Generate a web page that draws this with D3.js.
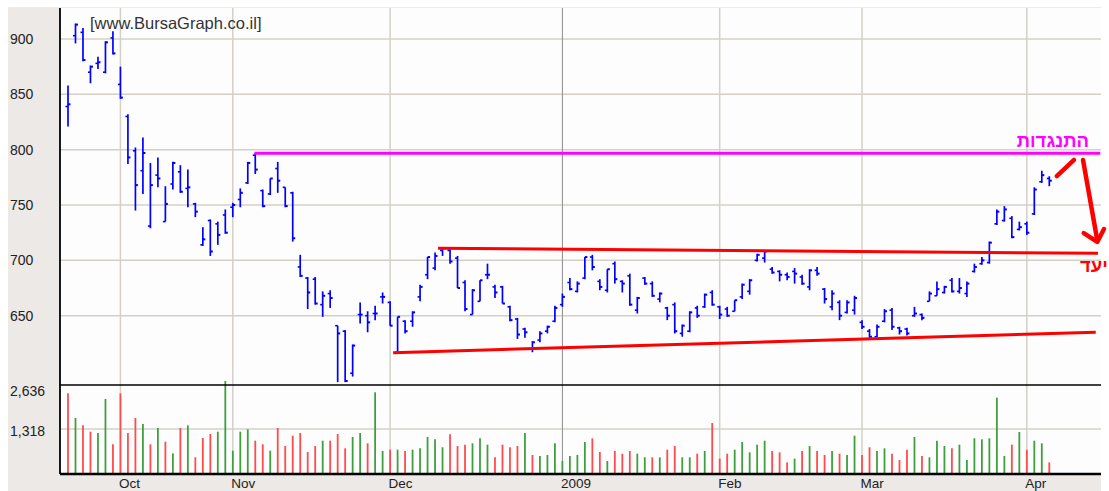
<!DOCTYPE html>
<html>
<head>
<meta charset="utf-8">
<script src="https://cdnjs.cloudflare.com/ajax/libs/d3/7.8.5/d3.min.js"></script>
<style>
  body { margin: 0; background: #fff; }
  svg { display: block; font-family: "Liberation Sans", Arial, sans-serif; }
</style>
</head>
<body>
<svg id="chart" width="1109" height="491"></svg>
<script>
// Daily bars, one entry per trading day (index 0 = first bar on the left)
const opens = [839, 903, 906, 870, 878, 870, 901, 859, 830, 799, 781, 731, 777, 735, 769, 780, 765, 751, 714, 736,
  733, 741, 748, 755, 770, 795, 763, 760, 783, 766, 761, 694, 684, 683, 660, 670, 641, 636, 598, 651,
  650, 652, 667, 662, 617, 645, 645, 667, 687, 693, 709, 709, 702, 680, 651, 663, 687, 676, 676, 658,
  647, 638, 620, 628, 636, 645, 660, 680, 672, 684, 703, 681, 673, 697, 681, 686, 655, 684, 679, 665,
  657, 660, 634, 636, 657, 658, 671, 658, 656, 654, 667, 672, 700, 702, 692, 690, 687, 690, 685, 676,
  691, 674, 658, 662, 653, 655, 644, 636, 631, 645, 655, 639, 638, 650, 651, 663, 668, 671, 682, 672,
  670, 690, 697, 698, 733, 736, 738, 728, 733, 742, 771, 774];
const highs = [858, 914, 910, 876, 884, 898, 907, 875, 832, 802, 811, 788, 793, 767, 789, 786, 782, 752, 730, 737,
  735, 746, 752, 765, 789, 797, 764, 774, 789, 766, 762, 705, 685, 685, 672, 673, 641, 637, 624, 662,
  654, 659, 671, 663, 649, 646, 654, 678, 703, 707, 712, 710, 704, 682, 674, 682, 697, 678, 677, 659,
  648, 639, 627, 636, 641, 659, 670, 684, 681, 703, 705, 683, 692, 699, 682, 688, 667, 685, 681, 671,
  658, 662, 642, 654, 659, 670, 673, 659, 658, 664, 679, 683, 706, 709, 694, 691, 689, 693, 687, 692,
  694, 675, 673, 664, 664, 668, 646, 638, 642, 656, 657, 640, 639, 658, 652, 672, 681, 677, 684, 684,
  681, 697, 703, 717, 746, 749, 740, 735, 735, 766, 781, 776];
const lows = [821, 896, 880, 860, 873, 869, 886, 846, 787, 745, 760, 729, 766, 735, 764, 761, 748, 739, 713, 704,
  714, 724, 739, 748, 769, 778, 748, 759, 761, 748, 717, 685, 656, 660, 649, 657, 590, 590, 595, 643,
  635, 646, 661, 641, 617, 634, 640, 663, 683, 691, 704, 697, 675, 654, 651, 663, 683, 666, 661, 645,
  629, 630, 617, 626, 634, 644, 658, 673, 671, 683, 691, 673, 671, 679, 671, 659, 652, 678, 667, 662,
  646, 634, 631, 635, 648, 657, 659, 647, 649, 654, 665, 669, 699, 698, 688, 681, 682, 679, 678, 673,
  686, 661, 655, 646, 652, 651, 638, 630, 630, 644, 637, 633, 632, 649, 646, 663, 668, 670, 671, 670,
  667, 689, 696, 697, 732, 735, 720, 727, 723, 741, 770, 767];
const closes = [841, 913, 881, 875, 879, 897, 887, 847, 793, 768, 797, 768, 774, 751, 788, 762, 766, 744, 719, 708,
  723, 725, 750, 761, 788, 782, 749, 774, 772, 749, 720, 686, 671, 661, 668, 666, 634, 591, 623, 651,
  644, 652, 667, 641, 649, 636, 653, 676, 703, 704, 711, 699, 675, 656, 673, 682, 687, 671, 661, 646,
  633, 635, 626, 634, 640, 657, 667, 674, 679, 703, 694, 676, 692, 683, 679, 660, 666, 679, 668, 670,
  650, 636, 641, 653, 650, 669, 660, 651, 650, 664, 678, 682, 705, 708, 689, 687, 685, 688, 679, 691,
  688, 665, 670, 650, 662, 666, 640, 631, 640, 654, 640, 636, 634, 652, 648, 670, 674, 676, 672, 675,
  679, 694, 700, 716, 744, 746, 721, 730, 725, 764, 777, 772];
const prevClose = 848; // close of the day before the first bar

const volumes = [2387, 1647, 1428, 1238, 1198, 2216, 859, 2387, 1198, 1647, 1468, 859, 1348, 938, 590, 1348, 1428, 470, 1048, 1168,
  1238, 2755, 668, 1238, 1308, 968, 859, 668, 1348, 809, 1118, 1198, 629, 809, 968, 968, 1168, 739, 1078, 1198,
  889, 2417, 659, 698, 698, 659, 698, 739, 1078, 1009, 770, 1159, 809, 848, 889, 1039, 848, 470, 848, 770,
  809, 1198, 539, 509, 539, 889, 359, 509, 539, 928, 1039, 629, 359, 659, 579, 659, 579, 470, 470, 470,
  698, 809, 470, 470, 579, 659, 1498, 429, 579, 698, 928, 619, 848, 968, 659, 619, 319, 429, 659, 809,
  659, 539, 659, 579, 539, 1118, 539, 770, 659, 739, 579, 389, 698, 1078, 509, 470, 968, 809, 739, 848,
  389, 1039, 1009, 1039, 2256, 509, 848, 1228, 698, 968, 889, 319];

// month boundaries (bar index of the first trading day) and their labels
const monthLabels = ["Oct", "Nov", "Dec", "2009", "Feb", "Mar", "Apr"];
const monthStarts = [7, 22, 43, 66, 87, 106, 128];

const priceTicks = [650, 700, 750, 800, 850, 900];
const volumeTicks = [1318, 2636];

// hand-drawn annotations, in [bar index, price]
const resistanceLine = [[24.9, 796.7], [137.8, 796.7]];
const channelTop = [[49.4, 710.9], [137.5, 706.4]];
const channelBottom = [[43.4, 616.6], [137.2, 635.0]];
const arrowUp = [[132.0, 776.2], [134.3, 790.7]];
const arrowDown = [[135.5, 790.7], [137.4, 718.4]];
const arrowHead = [[135.6, 724.7], [137.4, 716.6], [138.3, 728.3]];
const resistanceLabel = { text: "התנגדות", at: [136.3, 802.7] };
const targetLabel = { text: "יעד", at: [135.1, 689.8] };
const watermark = "[www.BursaGraph.co.il]";

const svg = d3.select("#chart");
const plotLeft = 60, plotRight = 1101, plotTop = 8, priceBottom = 385, volBottom = 474;

const x = d3.scaleLinear().domain([0, 131]).range([68, 1049.3]);
const y = d3.scaleLinear().domain([650, 900]).range([315.7, 39]);
const yVol = d3.scaleLinear().domain([0, 2636]).range([473, 385]);

// frame: grey label panel and white plot area
svg.append("rect").attr("x", 8).attr("y", 7).attr("width", plotRight - 8).attr("height", 491 - 7).attr("fill", "#ece9e6");
svg.append("rect").attr("x", plotLeft).attr("y", plotTop).attr("width", plotRight - plotLeft).attr("height", volBottom - plotTop).attr("fill", "#fdfdfd");

const grid = svg.append("g");
grid.selectAll(".hgrid").data(priceTicks).enter().append("line")
  .attr("x1", plotLeft).attr("x2", plotRight)
  .attr("y1", d => y(d)).attr("y2", d => y(d))
  .attr("stroke", "#d4d0c8").attr("stroke-width", 1.5);
grid.selectAll(".vgridv").data(volumeTicks.slice(0, 1)).enter().append("line")
  .attr("x1", plotLeft).attr("x2", plotRight)
  .attr("y1", d => yVol(d)).attr("y2", d => yVol(d))
  .attr("stroke", "#d4d0c8").attr("stroke-width", 1.5);
grid.selectAll(".vgrid").data(monthStarts).enter().append("line")
  .attr("x1", d => x(d)).attr("x2", d => x(d))
  .attr("y1", plotTop).attr("y2", volBottom)
  .attr("stroke", (d, i) => monthLabels[i] === "2009" ? "#8a8a8a" : "#d4d0c8")
  .attr("stroke-width", (d, i) => monthLabels[i] === "2009" ? 1 : 1.5);

// volume bars, coloured by close vs previous close
const up = closes.map((c, i) => c > (i === 0 ? prevClose : closes[i - 1]));
svg.append("g").selectAll("line").data(volumes).enter().append("line")
  .attr("x1", (d, i) => x(i)).attr("x2", (d, i) => x(i))
  .attr("y1", yVol(0)).attr("y2", d => yVol(d))
  .attr("stroke", (d, i) => up[i] ? "#3f9f3f" : "#ff4b4b")
  .attr("stroke-width", 1.8);

// OHLC bars
const bars = svg.append("g").attr("stroke", "#0000ff");
bars.selectAll(".hl").data(highs).enter().append("line")
  .attr("x1", (d, i) => x(i)).attr("x2", (d, i) => x(i))
  .attr("y1", d => y(d)).attr("y2", (d, i) => y(lows[i]))
  .attr("stroke-width", 1.7);
bars.selectAll(".op").data(opens).enter().append("line")
  .attr("x1", (d, i) => x(i) - 2.5).attr("x2", (d, i) => x(i))
  .attr("y1", d => y(d)).attr("y2", d => y(d))
  .attr("stroke-width", 1.6);
bars.selectAll(".cl").data(closes).enter().append("line")
  .attr("x1", (d, i) => x(i)).attr("x2", (d, i) => x(i) + 2.5)
  .attr("y1", d => y(d)).attr("y2", d => y(d))
  .attr("stroke-width", 2);

// annotations
const line = d3.line().x(d => x(d[0])).y(d => y(d[1]));
svg.append("path").attr("d", line(resistanceLine)).attr("fill", "none")
  .attr("stroke", "#ff00ff").attr("stroke-width", 3);
[channelTop, channelBottom].forEach(seg => {
  svg.append("path").attr("d", line(seg)).attr("fill", "none")
    .attr("stroke", "#ff0000").attr("stroke-width", 3);
});
[arrowUp, arrowDown, arrowHead].forEach(seg => {
  svg.append("path").attr("d", line(seg)).attr("fill", "none")
    .attr("stroke", "#ff0000").attr("stroke-width", 4.5)
    .attr("stroke-linecap", "round").attr("stroke-linejoin", "round");
});
svg.append("text").attr("x", x(resistanceLabel.at[0])).attr("y", y(resistanceLabel.at[1]))
  .attr("text-anchor", "end").attr("font-size", 18.5).attr("font-weight", "bold").attr("fill", "#ff00ff")
  .text(resistanceLabel.text);
svg.append("text").attr("x", x(targetLabel.at[0])).attr("y", y(targetLabel.at[1]))
  .attr("text-anchor", "start").attr("font-size", 18.5).attr("font-weight", "bold").attr("fill", "#ff0000")
  .text(targetLabel.text);

// axis lines
svg.append("line").attr("x1", plotLeft).attr("x2", plotRight).attr("y1", priceBottom).attr("y2", priceBottom)
  .attr("stroke", "#000").attr("stroke-width", 1.5);
svg.append("line").attr("x1", plotLeft).attr("x2", plotRight).attr("y1", volBottom).attr("y2", volBottom)
  .attr("stroke", "#000").attr("stroke-width", 2.5);
svg.append("line").attr("x1", plotLeft).attr("x2", plotLeft).attr("y1", plotTop).attr("y2", volBottom)
  .attr("stroke", "#000").attr("stroke-width", 1.8);

// labels
svg.append("text").attr("x", 90).attr("y", 29).attr("font-size", 16.5).attr("fill", "#333").text(watermark);
svg.append("g").selectAll("text").data(priceTicks).enter().append("text")
  .attr("x", 10).attr("y", d => y(d)).attr("dy", "0.35em")
  .attr("font-size", 14).attr("fill", "#222").text(d => d);
svg.append("g").selectAll("text").data(volumeTicks).enter().append("text")
  .attr("x", 10).attr("y", d => yVol(d) + (d === 2636 ? 6 : 2)).attr("dy", "0.35em")
  .attr("font-size", 14).attr("fill", "#222").text(d => d3.format(",")(d));
svg.append("g").selectAll("text").data(monthStarts).enter().append("text")
  .attr("x", d => x(d) - 1.5).attr("y", 488)
  .attr("font-size", 13.5).attr("fill", "#222").text((d, i) => monthLabels[i]);
</script>
</body>
</html>
